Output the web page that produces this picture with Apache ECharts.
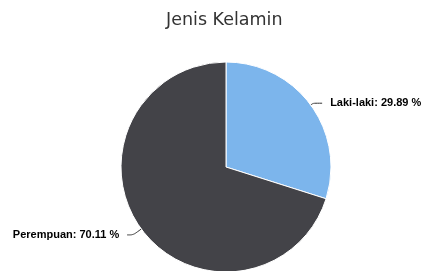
<!DOCTYPE html>
<html>
<head>
<meta charset="utf-8">
<script src="https://cdn.jsdelivr.net/npm/echarts@6/dist/echarts.min.js"></script>
<style>
  html, body { margin: 0; padding: 0; background: #fff; }
  #chart { width: 429px; height: 271px; }
</style>
</head>
<body>
<div id="chart"></div>
<script>
const categories = ["Laki-laki", "Perempuan"];
const shares = [29.89, 70.11];
const colors = ["#7cb5ec", "#434348"];
// connector lengths per slice [radial, horizontal]
const connectors = [[3, 9], [10, 6]];

const chart = echarts.init(document.getElementById("chart"));
chart.setOption({
  animation: false,
  color: colors,
  title: {
    text: "Jenis Kelamin",
    left: 166,
    top: 11,
    padding: 0,
    textStyle: {
      fontFamily: "DejaVu Sans",
      fontSize: 17.5,
      fontWeight: "normal",
      color: "#333333",
    },
  },
  series: [
    {
      type: "pie",
      center: [226, 167],
      radius: 105,
      startAngle: 90,
      clockwise: true,
      avoidLabelOverlap: false,
      itemStyle: { borderColor: "#fff", borderWidth: 1 },
      label: {
        show: true,
        position: "outside",
        formatter: "{b}: {d} %",
        fontFamily: "Liberation Sans",
        fontSize: 11,
        fontWeight: "bold",
        color: "#000",
        distanceToLabelLine: 8,
      },
      labelLine: {
        show: true,
        smooth: true,
        lineStyle: { color: "#333", width: 1 },
      },
      emphasis: { disabled: true },
      data: categories.map((name, i) => ({
        name: name,
        value: shares[i],
        labelLine: { length: connectors[i][0], length2: connectors[i][1] },
      })),
    },
  ],
});
</script>
</body>
</html>
